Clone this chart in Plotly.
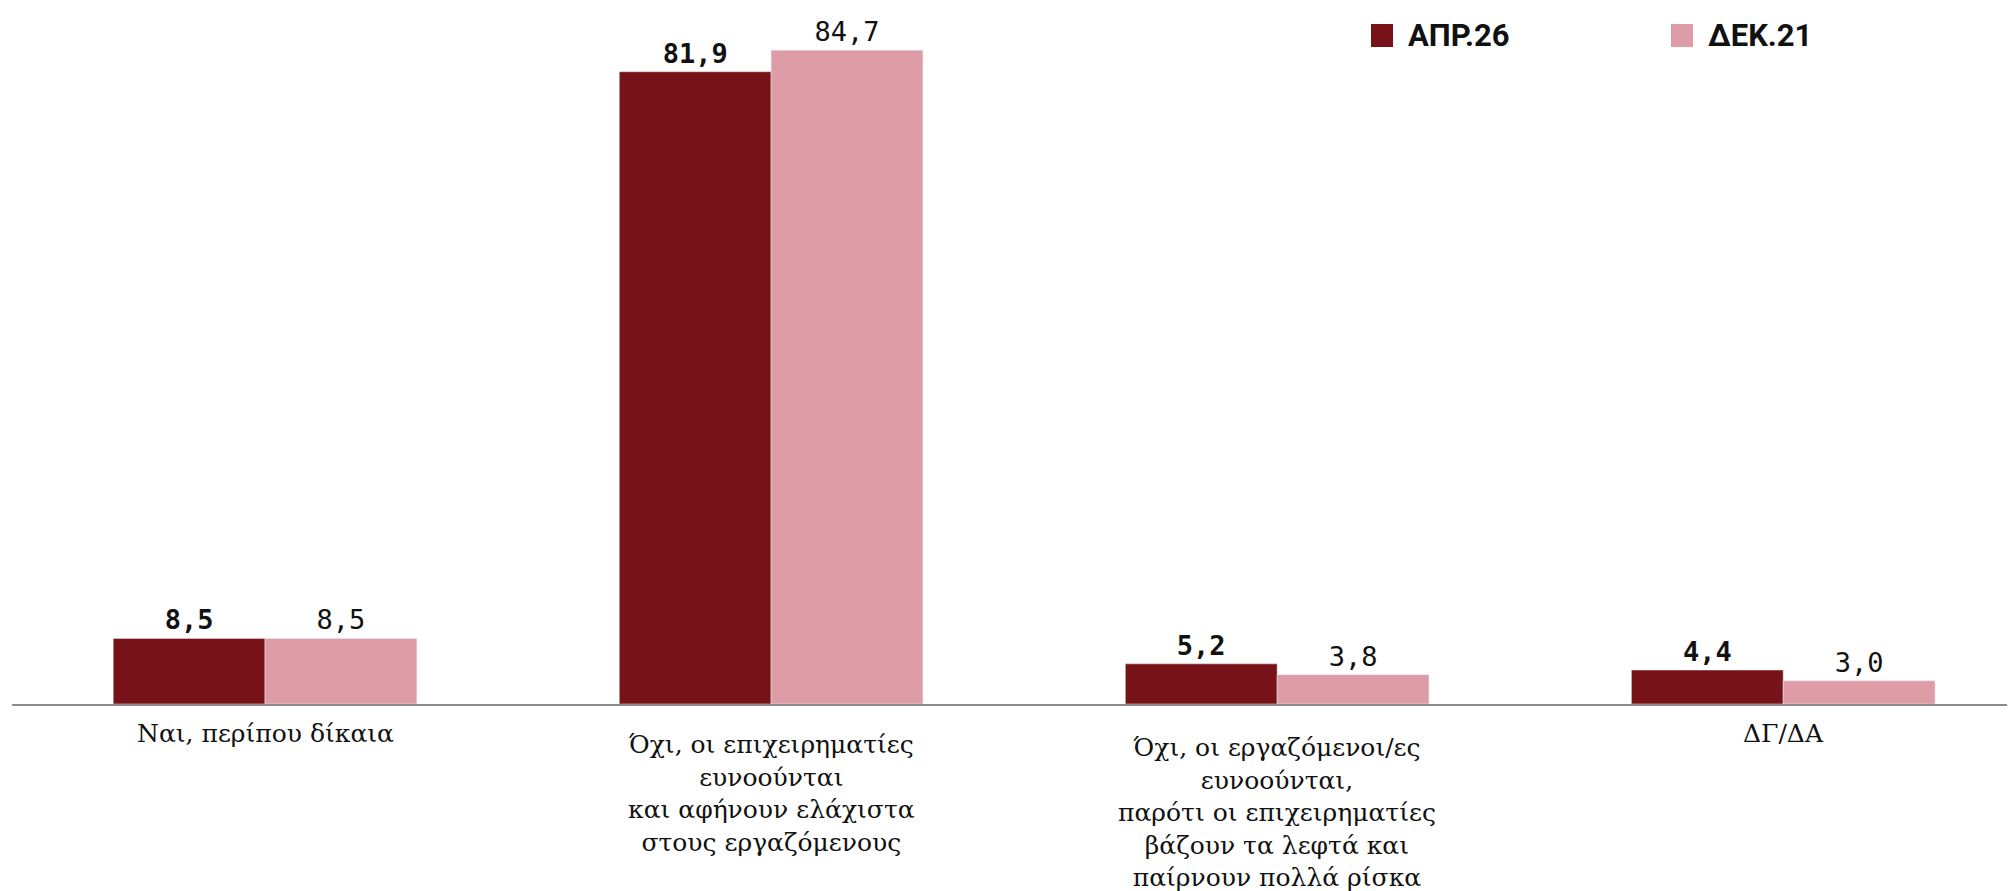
import plotly.graph_objects as go

categories = [
    "Ναι, περίπου δίκαια",
    "Όχι, οι επιχειρηματίες<br>ευνοούνται<br>και αφήνουν ελάχιστα<br>στους εργαζόμενους",
    "Όχι, οι εργαζόμενοι/ες<br>ευνοούνται,<br>παρότι οι επιχειρηματίες<br>βάζουν τα λεφτά και<br>παίρνουν πολλά ρίσκα",
    "ΔΓ/ΔΑ",
]
series_names = ["ΑΠΡ.26", "ΔΕΚ.21"]
apr26 = [8.5, 81.9, 5.2, 4.4]
dek21 = [8.5, 84.7, 3.8, 3.0]

DARK = "#761218"
LIGHT = "#DE9CA6"

fig = go.Figure()
fig.add_trace(go.Bar(
    x=categories, y=apr26, name=series_names[0], marker_color=DARK,
    texttemplate="%{y:.1f}", textposition="outside",
    textfont=dict(family="DejaVu Sans Mono", size=27, color="#111111", weight="bold"),
    cliponaxis=False,
))
fig.add_trace(go.Bar(
    x=categories, y=dek21, name=series_names[1], marker_color=LIGHT,
    texttemplate="%{y:.1f}", textposition="outside",
    textfont=dict(family="DejaVu Sans Mono", size=27, color="#111111"),
    cliponaxis=False,
))

# page has an 8px body margin; compensate so plot area is at page x 12..2015, y 10..704
BODY = 8
W, H = 2015, 891
PL, PR, PT, PB = 12, 2015, 10, 704
pw, ph = PR - PL, PB - PT

def px(x):
    return (x - PL) / pw

def py(y):
    return (PB - y) / ph

# custom legend (large square swatches)
legend_x = [1371, 1671]
for name, col, x0 in zip(series_names, [DARK, LIGHT], legend_x):
    fig.add_shape(type="rect", xref="paper", yref="paper",
                  x0=px(x0), x1=px(x0 + 22), y0=py(47), y1=py(24),
                  fillcolor=col, line_width=0)
    fig.add_annotation(xref="paper", yref="paper", x=px(x0 + 35), y=py(35.5),
                       text=f"<b>{name}</b>", showarrow=False, xanchor="left",
                       yanchor="middle",
                       font=dict(family="Roboto", size=31, color="#111111"))

# category labels as annotations
for cat in categories:
    n = cat.count("<br>") + 1
    fig.add_annotation(x=cat, xref="x", y=0, yref="paper", text=cat,
                       showarrow=False, xanchor="center", yanchor="top",
                       yshift=-(13 + 3.5 * (n - 1)), align="center",
                       font=dict(family="DejaVu Serif", size=25, color="#111111"))

fig.update_layout(
    width=W, height=H,
    margin=dict(l=PL - BODY, r=W - PR + BODY, t=PT - BODY, b=H - PB + BODY, pad=0),
    paper_bgcolor="white", plot_bgcolor="white",
    barmode="group", bargap=0.4, bargroupgap=0,
    separators=",.",
    showlegend=False,
)
fig.update_xaxes(
    range=[-0.5, 3.458], showline=True, linecolor="#8c8c8c", linewidth=2,
    ticks="", showgrid=False, zeroline=False, showticklabels=False,
)
fig.update_yaxes(
    range=[0, 89.9], visible=False, showgrid=False, zeroline=False,
)

fig.write_html("out.html")
